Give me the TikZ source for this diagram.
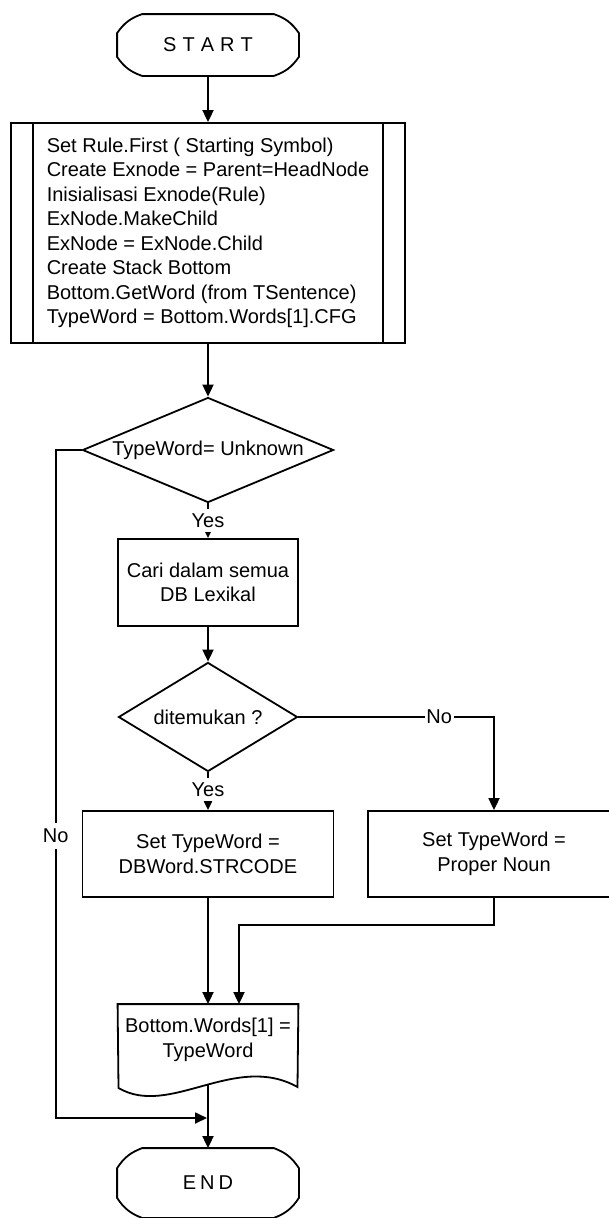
\documentclass[tikz,border=0pt]{standalone}
\usepackage{fontspec}
\setmainfont{Liberation Sans}
\usetikzlibrary{shapes.geometric,arrows.meta,calc}

\begin{document}
\begin{tikzpicture}[x=1pt,y=-1pt,
  line width=1.8pt,
  every node/.style={font=\fontsize{20}{24.5}\selectfont},
  flow/.style={-{Triangle[length=12pt,width=11pt]}},
  plainbox/.style={draw,rectangle,align=center,inner sep=0pt},
  decision/.style={draw,diamond,inner sep=0pt,align=center},
  tag/.style={fill=white,inner xsep=1.5pt,inner ysep=2pt},
  term/.style={rectangle,inner sep=0pt,minimum width=180pt},
]
\useasboundingbox (0,0) rectangle (609,1218);

% terminals
\node[term,minimum height=60pt] (start) at (208,45) {S\kern6pt T\kern6pt A\kern6pt R\kern6pt T};
\draw ([xshift=25pt]start.north west) -- ([xshift=-25pt]start.north east)
  to[bend left=18] ([yshift=-19pt]start.north east) -- ([yshift=19pt]start.south east)
  to[bend left=18] ([xshift=-25pt]start.south east) -- ([xshift=25pt]start.south west)
  to[bend left=18] ([yshift=19pt]start.south west) -- ([yshift=-19pt]start.north west)
  to[bend left=18] cycle;

% predefined process
\node[draw,rectangle,minimum width=394pt,minimum height=220pt,
      inner sep=0pt,align=left] (init) at (208,233)
  {Set Rule.First ( Starting Symbol)\\
   Create Exnode = Parent=HeadNode\\
   Inisialisasi Exnode(Rule)\\
   ExNode.MakeChild\\
   ExNode = ExNode.Child\\
   Create Stack Bottom\\
   Bottom.GetWord (from TSentence)\\
   TypeWord = Bottom.Words[1].CFG};
\draw ([xshift=23pt]init.north west) -- ([xshift=23pt]init.south west);
\draw ([xshift=-23pt]init.north east) -- ([xshift=-23pt]init.south east);

% decisions and processes
\node[decision,aspect=2.39,minimum width=251pt,minimum height=105pt] (unk) at (208,450) {TypeWord= Unknown};
\node[plainbox,minimum width=180pt,minimum height=87pt] (cari) at (208,582.5) {Cari dalam semua\\DB Lexikal};
\node[decision,aspect=1.64,minimum width=179pt,minimum height=109pt] (found) at (208,717) {ditemukan ?};
\node[plainbox,minimum width=251pt,minimum height=86pt] (setdb) at (208,854) {Set TypeWord =\\DBWord.STRCODE};
\node[plainbox,minimum width=252pt,minimum height=86pt] (setpn) at (494,854) {Set TypeWord =\\Proper Noun};

% document
\node[rectangle,inner sep=0pt,minimum width=179pt,minimum height=70pt,align=center] (doc) at (208,1040)
  {Bottom.Words[1] =\\TypeWord};
\draw (doc.north west) -- (doc.north east) -- (297.5,1087)
  .. controls (235,1052) and (170,1118) .. (118.5,1088) -- cycle;
\coordinate (docbot) at (208,1085);

\node[term,minimum height=68pt] (end) at (208,1183) {E\kern4pt N\kern4pt D};
\draw ([xshift=25pt]end.north west) -- ([xshift=-25pt]end.north east)
  to[bend left=18] ([yshift=-20pt]end.north east) -- ([yshift=20pt]end.south east)
  to[bend left=18] ([xshift=-25pt]end.south east) -- ([xshift=25pt]end.south west)
  to[bend left=18] ([yshift=20pt]end.south west) -- ([yshift=-20pt]end.north west)
  to[bend left=18] cycle;

\coordinate (join) at (207,1118);

% connectors
\draw[flow] (start) -- (init);
\draw[flow] (init) -- (unk);
\draw[flow] (unk) -- node[tag,inner ysep=4.5pt,pos=0.5] {Yes} (cari);
\draw[flow] (cari) -- (found);
\draw[flow] (found) -- node[tag,inner ysep=4.5pt,pos=0.46] {Yes} (setdb);
\draw[flow] (found.east) -| node[tag,pos=0.36] {No} (setpn.north);
\draw[flow] (setdb) -- (doc);
\draw[flow] (setpn.south) -- ++(0,27) -| ([xshift=31pt]doc.north);
\draw[flow] (unk.west) -- ++(-26,0) coordinate (nl)
  -- node[tag,inner ysep=6pt,pos=0.578] {No} (nl |- join) -- (join);
\draw[flow] (docbot) -- (end.north);
\end{tikzpicture}
\end{document}
